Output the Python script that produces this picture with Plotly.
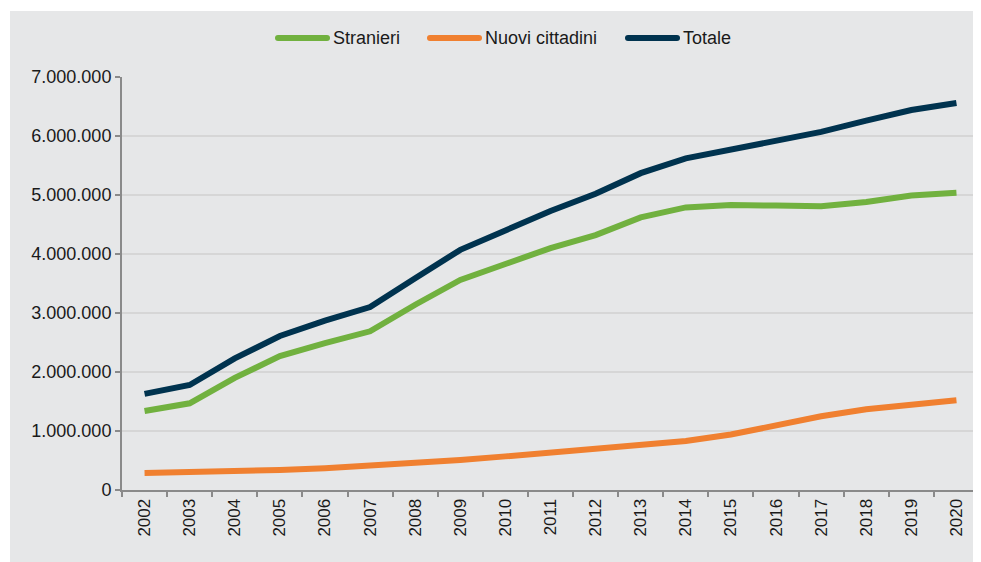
import plotly.graph_objects as go

anni = [str(y) for y in range(2002, 2021)]
stranieri = [1340000, 1470000, 1900000, 2270000, 2490000, 2690000, 3140000, 3560000, 3830000, 4100000,
             4320000, 4620000, 4790000, 4830000, 4820000, 4810000, 4880000, 4990000, 5040000]
nuovi_cittadini = [290000, 300000, 320000, 340000, 370000, 410000, 450000, 510000, 570000, 630000,
                   700000, 750000, 830000, 940000, 1090000, 1250000, 1370000, 1440000, 1520000]
totale = [1630000, 1780000, 2230000, 2610000, 2870000, 3100000, 3590000, 4070000, 4400000, 4730000,
          5020000, 5370000, 5620000, 5770000, 5910000, 6070000, 6260000, 6440000, 6560000]
y_ticks = [0, 1000000, 2000000, 3000000, 4000000, 5000000, 6000000, 7000000]
serie = ["Stranieri", "Nuovi cittadini", "Totale"]
colori = ["#71b13f", "#f08030", "#00334f"]

BG = "#e6e7e8"
FONT = "Liberation Sans, Arial, sans-serif"

W, H = 973, 554
ML, MR, MT, MB = 114, 2, 69, 72
PW, PH = W - ML - MR, H - MT - MB


def px_x(fx):
    return (fx - ML) / PW


def px_y(fy):
    return (H - MB - fy) / PH


fig = go.Figure()
for name, vals, col in zip(serie, [stranieri, nuovi_cittadini, totale], colori):
    fig.add_trace(go.Scatter(x=anni, y=vals, name=name, mode="lines",
                             line=dict(color=col, width=6), showlegend=False))

# custom legend (long line keys as in the reference)
leg_x = [267, 419, 617]
shapes = []
annotations = []
ly = px_y(30)
for name, col, lx in zip(serie, colori, leg_x):
    shapes.append(dict(type="line", xref="paper", yref="paper",
                       x0=px_x(lx + 3), x1=px_x(lx + 52), y0=ly, y1=ly,
                       line=dict(color=col, width=6)))
    for cx in (lx + 3, lx + 52):
        shapes.append(dict(type="circle", xref="paper", yref="paper",
                           x0=px_x(cx - 3), x1=px_x(cx + 3),
                           y0=px_y(33), y1=px_y(27),
                           fillcolor=col, line=dict(width=0)))
    annotations.append(dict(text=name, xref="paper", yref="paper",
                            x=px_x(lx + 56), y=ly, xanchor="left", yanchor="middle",
                            showarrow=False, font=dict(size=18, color="#1a1a1a")))

shapes += [
    dict(type="rect", xref="paper", yref="paper",
         x0=-ML / PW - 0.01, x1=(2 - ML) / PW, y0=-MB / PH - 0.02, y1=1 + MT / PH + 0.02,
         fillcolor="white", line=dict(width=0), layer="above"),
    dict(type="rect", xref="paper", yref="paper",
         x0=-ML / PW - 0.01, x1=1.05, y0=1 + (MT - 3) / PH, y1=1 + MT / PH + 0.02,
         fillcolor="white", line=dict(width=0), layer="above"),
]

fig.update_layout(
    width=W, height=H,
    paper_bgcolor=BG, plot_bgcolor=BG,
    margin=dict(l=ML, r=MR, t=MT, b=MB),
    font=dict(family=FONT, size=18, color="#1a1a1a"),
    separators=",.",
    showlegend=False,
    xaxis=dict(type="category", tickangle=-90, tickson="boundaries",
               ticks="outside", ticklen=5, tickcolor="#8a8a8a", tickwidth=1.5,
               showline=True, linecolor="#8a8a8a", linewidth=2,
               showgrid=False, tickfont=dict(size=17), range=[-0.5, 18.5]),
    yaxis=dict(range=[0, 7000000], tickvals=y_ticks, tickformat=",d",
               ticks="outside", ticklen=5, tickcolor="#8a8a8a", tickwidth=1.5,
               showline=True, linecolor="#8a8a8a", linewidth=2,
               showgrid=True, gridcolor="#d6d6d6", gridwidth=1.5,
               zeroline=False, tickfont=dict(size=18)),
    shapes=shapes,
    annotations=annotations,
)

fig.write_html("out.html")
